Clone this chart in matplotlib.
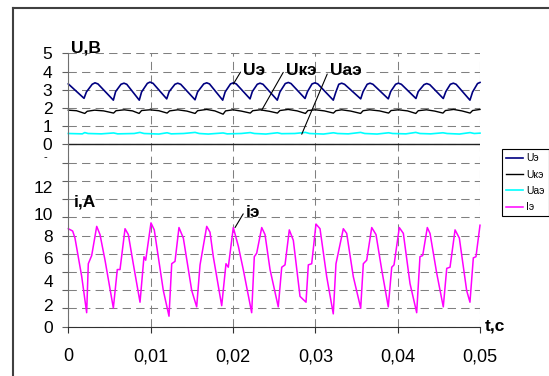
import numpy as np
import matplotlib.pyplot as plt
from matplotlib.lines import Line2D

plt.rcParams['font.family'] = ['Liberation Sans', 'DejaVu Sans']

# time in ms
ue_t = [0.0, 1.91, 2.2, 2.9, 3.24, 3.6, 5.47, 5.75, 6.4, 6.76, 7.1, 8.62, 8.9, 9.6, 9.92,
        10.3, 11.95, 12.25, 12.95, 13.29, 13.65, 15.39, 15.7, 16.45, 16.81, 17.15, 18.75,
        19.05, 19.7, 20.04, 20.4, 22.07, 22.35, 22.95, 23.28, 23.65, 25.38, 25.7, 26.35,
        26.72, 27.05, 28.75, 29.05, 29.6, 29.96, 30.3, 32.18, 32.5, 32.85, 33.2, 33.55,
        35.51, 35.8, 36.3, 36.64, 37.0, 38.86, 39.15, 39.75, 40.08, 40.45, 42.22, 42.5,
        43.2, 43.53, 43.9, 45.54, 45.85, 46.4, 46.76, 47.1, 48.78, 49.1, 49.7, 50.0]
ue_v = [3.32, 2.53, 2.88, 3.3, 3.38, 3.32, 2.43, 2.9, 3.3, 3.36, 3.3, 2.43, 2.88, 3.35, 3.42,
        3.35, 2.5, 2.9, 3.3, 3.36, 3.3, 2.45, 2.88, 3.32, 3.38, 3.32, 2.43,
        2.88, 3.32, 3.38, 3.32, 2.5, 2.9, 3.3, 3.36, 3.3, 2.43, 2.88, 3.34,
        3.4, 3.34, 2.52, 2.9, 3.32, 3.38, 3.32, 2.43, 2.88, 3.3, 3.36, 3.3,
        2.5, 2.9, 3.3, 3.36, 3.3, 2.5, 2.9, 3.3, 3.36, 3.3, 2.52, 2.9,
        3.28, 3.34, 3.28, 2.52, 2.9, 3.3, 3.36, 3.3, 2.43, 2.88, 3.34, 3.4]

uke_t = [0, 1.0, 2.0, 2.3, 3.2, 4.3, 5.5, 5.8, 6.8, 7.8, 8.6, 8.9, 9.9, 11.0, 12.0, 12.3,
         13.3, 14.4, 15.4, 15.7, 16.8, 17.8, 18.8, 19.1, 20.0, 21.0, 22.1, 22.4, 23.3, 24.4,
         25.4, 25.7, 26.7, 27.8, 28.8, 29.1, 30.0, 31.1, 32.2, 32.5, 33.2, 34.3, 35.5, 35.8,
         36.6, 37.8, 38.9, 39.2, 40.1, 41.2, 42.2, 42.5, 43.5, 44.5, 45.5, 45.8, 46.8, 47.8,
         48.8, 49.1, 50.0]
uke_v = [1.88, 1.85, 1.70, 1.82, 1.88, 1.84, 1.72, 1.85, 1.9, 1.84, 1.7, 1.86, 1.9, 1.85,
         1.72, 1.84, 1.9, 1.83, 1.70, 1.85, 1.92, 1.84, 1.66, 1.84, 1.9, 1.83, 1.72, 1.85,
         1.9, 1.82, 1.72, 1.86, 1.92, 1.84, 1.7, 1.86, 1.9, 1.84, 1.72, 1.85, 1.9, 1.83,
         1.7, 1.85, 1.9, 1.84, 1.72, 1.86, 1.9, 1.84, 1.7, 1.85, 1.9, 1.83, 1.72, 1.86,
         1.92, 1.84, 1.72, 1.86, 1.92]

uae_t = [0, 1.7, 2.0, 2.4, 4, 5.5, 6.0, 8, 8.7, 9.2, 11, 12, 12.5, 14, 15.4, 15.9, 17,
         18.8, 19.3, 21, 22.1, 22.6, 24, 25.4, 25.9, 27.5, 28.8, 29.3, 31, 32.2, 32.7, 34,
         35.5, 36, 37.5, 38.9, 39.4, 41, 42.2, 42.7, 44, 45.5, 46, 47.5, 48.8, 49.3, 50]
uae_v = [0.6, 0.58, 0.65, 0.6, 0.58, 0.63, 0.58, 0.6, 0.66, 0.6, 0.57, 0.64, 0.58, 0.6,
         0.66, 0.6, 0.57, 0.63, 0.58, 0.6, 0.65, 0.6, 0.57, 0.64, 0.59, 0.6, 0.66, 0.6,
         0.57, 0.64, 0.6, 0.58, 0.66, 0.6, 0.57, 0.64, 0.6, 0.58, 0.66, 0.6, 0.58, 0.64,
         0.6, 0.57, 0.65, 0.6, 0.62]

ie_t = [0.0, 0.53, 0.81, 1.63, 2.23, 2.43, 2.84, 3.45, 3.85, 4.46, 5.47, 5.95, 6.28, 6.89,
        7.29, 7.89, 8.71, 9.19, 9.40, 10.04, 10.44, 11.54, 12.23, 12.56, 12.96, 13.44,
        13.97, 14.99, 15.59, 16.0, 16.81, 17.21, 17.61, 18.63, 19.15, 19.43, 20.04, 20.65,
        21.25, 22.27, 22.59, 22.88, 23.49, 23.89, 24.50, 25.50, 25.92, 26.32, 26.84, 27.33,
        28.14, 28.87, 29.15, 29.56, 30.08, 30.57, 31.38, 32.18, 32.51, 33.40, 33.81, 34.61,
        35.51, 35.83, 36.24, 36.85, 37.37, 38.06, 38.86, 39.28, 39.56, 40.20, 40.69, 41.50,
        42.31, 42.71, 43.04, 43.60, 43.93, 44.74, 45.54, 45.96, 46.36, 46.97, 47.49, 48.38,
        48.78, 49.19, 49.51, 50.0]
ie_v = [8.4, 8.2, 7.6, 4.3, 1.2, 5.4, 6.1, 8.6, 7.9, 5.7, 1.6, 4.9, 4.9, 8.4,
        7.9, 5.4, 2.1, 6.0, 5.7, 8.9, 8.3, 3.1, 0.9, 5.4, 5.6, 8.5,
        7.6, 3.1, 1.7, 5.3, 8.6, 8.1, 6.0, 1.8, 5.4, 5.1, 8.5, 6.9,
        4.9, 1.2, 6.0, 6.3, 8.5, 7.9, 4.9, 1.7, 5.1, 5.3, 8.3, 7.4,
        2.6, 2.1, 5.3, 5.4, 8.8, 8.4, 4.3, 1.1, 5.4, 8.4, 8.0, 4.3,
        1.6, 5.4, 5.7, 8.5, 7.9, 4.9, 1.7, 5.1, 5.3, 8.5, 8.0, 3.7,
        1.2, 6.0, 6.1, 8.5, 8.0, 4.6, 1.7, 5.0, 5.1, 8.3, 7.6, 3.1,
        2.1, 5.9, 6.0, 8.7]

x_ticks = [0, 0.01, 0.02, 0.03, 0.04, 0.05]
x_labels = ['0', '0,01', '0,02', '0,03', '0,04', '0,05']
u_labels = ['0', '1', '2', '3', '4', '5']
i_labels = ['0', '2', '4', '6', '8', '10', '12']

# the two panels share one grid: U sits on top (shifted), i below (scaled)
U_OFF = 10
I_SCALE = 0.64

W, H = 549, 376
fig = plt.figure(figsize=(W / 100, H / 100), dpi=100)
ax = fig.add_axes([68.3 / W, 1 - 326.7 / H, (480 - 68.3) / W, (326.7 - 53.3) / H])

def ms(t):
    return np.array(t) / 1000.0

l1, = ax.plot(ms(ue_t), np.array(ue_v) + U_OFF, color='#000080', lw=1.2, clip_on=False)
l2, = ax.plot(ms(uke_t), np.array(uke_v) + U_OFF, color='black', lw=1.0, clip_on=False)
l3, = ax.plot(ms(uae_t), np.array(uae_v) + U_OFF, color='#00ffff', lw=1.2, clip_on=False)
l4, = ax.plot(ms(ie_t), np.array(ie_v) * I_SCALE, color='#ff00ff', lw=1.1, clip_on=False)

ax.set_xlim(0, 0.05)
ax.set_ylim(0, 15)
ax.set_xticks(x_ticks)
ax.set_xticklabels(x_labels)
ax.set_yticks(range(16))
ax.set_yticklabels([''] * U_OFF + u_labels)
ax.tick_params(axis='y', direction='out', length=4.5, width=0.8, color='#606060',
               pad=7, labelsize=12.5)
ax.tick_params(axis='x', direction='out', length=4.5, width=0.8, color='#303030',
               pad=11, labelsize=13)
ax.grid(True, color='#808080', lw=0.75, linestyle=(0, (8, 5)))
ax.set_axisbelow(True)
for s in ['top', 'right']:
    ax.spines[s].set_visible(False)
ax.spines['left'].set_color('#707070')
ax.spines['bottom'].set_color('#303030')
ax.axhline(U_OFF, color='#202020', lw=1.0, zorder=1.5)

# i-axis labels (not aligned with the grid in the original)
i_pos = [-0.09, 1.10, 2.41, 3.70, 4.90, 6.12, 7.60]
for lbl, p in zip(i_labels, i_pos):
    ax.annotate(lbl, xy=(0, p), xycoords=('axes fraction', 'data'), xytext=(-15.5, 0),
                textcoords='offset pixels', ha='right', va='center', fontsize=12.5)
ax.annotate('-', xy=(0, 9.3), xycoords=('axes fraction', 'data'), xytext=(-23, 0),
            textcoords='offset pixels', ha='center', va='center', fontsize=8)

bold = dict(fontsize=12.5, fontweight='bold')
fig.text(71 / W, 1 - 52.7 / H, 'U,B', va='baseline', **bold)
fig.text(73.3 / W, 1 - 206.5 / H, 'i,A', va='baseline', **bold)
fig.text(484.3 / W, 1 - 330.7 / H, 't,c', va='baseline', **bold)

lead = dict(arrowstyle='-', color='black', lw=0.8, shrinkA=0, shrinkB=0)
for txt, xy, pos in [('Uэ', (0.02004, 3.31 + U_OFF), (243.3, 75)),
                     ('Uкэ', (0.02349, 1.88 + U_OFF), (286, 75)),
                     ('Uаэ', (0.02835, 0.56 + U_OFF), (330, 75)),
                     ('iэ', (0.02025, 8.5 * I_SCALE), (246, 216.7))]:
    ax.annotate(txt, xy=xy, xytext=(pos[0] / W, 1 - pos[1] / H), textcoords='figure fraction',
                va='baseline', ha='left', arrowprops=dict(relpos=(0, 0.7), **lead), **bold)

leg = ax.legend([l1, l2, l3, l4], ['Uэ', 'Uкэ', 'Uаэ', 'Iэ'], loc='upper left',
                bbox_to_anchor=(502 / W, 1 - 149.3 / H), bbox_transform=fig.transFigure,
                fontsize=7.5, frameon=True, fancybox=False, edgecolor='black', framealpha=1,
                borderpad=0.4, handlelength=1.6, handletextpad=0.3, labelspacing=0.6,
                borderaxespad=0)
leg.get_frame().set_linewidth(0.8)

# outer chart frame
fig.add_artist(Line2D([13 / W, 13 / W], [0, 1 - 7.5 / H], color='#404040', lw=1.5,
                      transform=fig.transFigure))
fig.add_artist(Line2D([13 / W, 1], [1 - 7.5 / H, 1 - 7.5 / H], color='#404040', lw=1.5,
                      transform=fig.transFigure))

fig.savefig('out.png', dpi=100)
